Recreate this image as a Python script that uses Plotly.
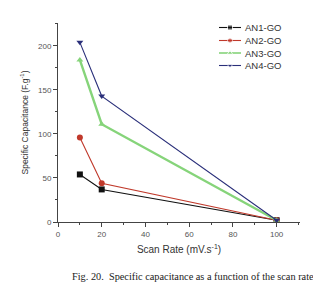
import plotly.graph_objects as go

scan_rate = [10, 20, 100]
an1 = [54, 37, 2]
an2 = [96, 44, 2]
an3 = [184, 111, 2]
an4 = [204, 143, 2]
names = ["AN1-GO", "AN2-GO", "AN3-GO", "AN4-GO"]

styles = [
    ("#111111", "square", 1.1),
    ("#c0392b", "circle", 1.1),
    ("#86d47a", "triangle-up", 2.4),
    ("#2a2f7a", "triangle-down", 1.1),
]

L, R, T, B = 50, 29, 15, 71
W, H = 321, 285

fig = go.Figure()
for name, vals, (col, sym, lw) in zip(names, [an1, an2, an3, an4], styles):
    fig.add_trace(go.Scatter(
        x=scan_rate, y=vals, name=name, mode="lines+markers",
        line=dict(color=col, width=lw),
        marker=dict(color=col, symbol=sym, size=6),
        showlegend=False,
    ))

# custom compact legend drawn on a hidden overlay axis in pixel units
leg_rows = [19.5, 32.5, 45.0, 57.5]
for name, yy, (col, sym, lw) in zip(names, leg_rows, styles):
    fig.add_trace(go.Scatter(
        x=[211, 222, 233], y=[yy, yy, yy], xaxis="x2", yaxis="y2",
        mode="lines+markers", line=dict(color=col, width=min(lw, 1.6)),
        marker=dict(color=col, symbol=sym, size=[0, 5, 0]),
        showlegend=False, hoverinfo="skip", cliponaxis=False,
    ))
    fig.add_annotation(
        text=name, xref="x2", yref="y2", x=235, y=yy, xanchor="left", yanchor="middle",
        showarrow=False,
        font=dict(family="Liberation Sans, Arial", size=9.5, color="#333333"),
    )

axis_common = dict(
    showline=True, linecolor="#444444", linewidth=1,
    ticks="outside", ticklen=4, tickcolor="#444444",
    showgrid=False, zeroline=False, mirror=False, automargin=False,
    tickfont=dict(family="Liberation Sans, Arial", size=8, color="#555555"),
)

fig.update_layout(
    width=W, height=H,
    margin=dict(l=L, r=R, t=T, b=B),
    paper_bgcolor="white", plot_bgcolor="white",
    showlegend=False,
    xaxis=dict(range=[0, 110.7], tickvals=[0, 20, 40, 60, 80, 100],
               minor=dict(ticks="outside", ticklen=2, dtick=10, tickcolor="#444444"),
               title=dict(text="Scan Rate (mV.s<sup>-1</sup>)", standoff=8,
                          font=dict(family="Liberation Sans, Arial", size=10, color="#333333")),
               **axis_common),
    yaxis=dict(range=[0, 226], tickvals=[0, 50, 100, 150, 200],
               minor=dict(ticks="outside", ticklen=2, dtick=25, tickcolor="#444444"),
               title=dict(text="Specific Capacitance (F.g<sup>-1</sup>)", standoff=8,
                          font=dict(family="Liberation Sans, Arial", size=8.5, color="#333333")),
               **axis_common),
    xaxis2=dict(range=[L, W - R], overlaying="x", visible=False, fixedrange=True),
    yaxis2=dict(range=[H - B, T], overlaying="y", visible=False, fixedrange=True),
)

fig.add_annotation(
    text="Fig. 20.  Specific capacitance as a function of the scan rate",
    xref="paper", yref="paper", x=0.556, y=-0.272, xanchor="center", yanchor="middle",
    showarrow=False,
    font=dict(family="Liberation Serif, Times New Roman", size=10.3, color="#222222"),
)

fig.write_html("out.html")
